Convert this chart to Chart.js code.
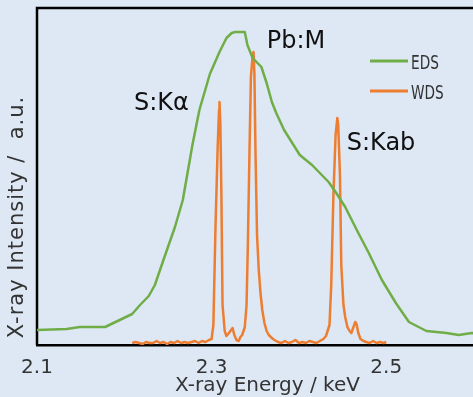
<!DOCTYPE html>
<html>
<head>
<meta charset="utf-8">
<script src="https://cdn.jsdelivr.net/npm/chart.js@4"></script>
<style>
  html, body { margin: 0; padding: 0; overflow: hidden; background: #dde8f4; }
  #wrap { width: 500px; height: 397px; position: relative; }
</style>
</head>
<body>
<div id="wrap"><canvas id="spec"></canvas></div>
<script>
// EDS spectrum (keV, a.u.)
const edsEnergy = [2.100, 2.134, 2.149, 2.178, 2.209, 2.218, 2.228, 2.235, 2.246, 2.258, 2.267, 2.278, 2.286, 2.298,
  2.309, 2.317, 2.323, 2.327, 2.338, 2.341, 2.347, 2.357, 2.363, 2.369, 2.374, 2.383, 2.401, 2.415, 2.434, 2.442,
  2.453, 2.468, 2.480, 2.495, 2.511, 2.526, 2.546, 2.569, 2.583, 2.598, 2.628];
const edsIntensity = [15, 16, 18, 18, 31, 40, 49, 60, 88, 118, 145, 200, 235, 271,
  293, 307, 312, 313, 313, 300, 287, 278, 262, 243, 232, 215, 190, 180, 163, 153,
  138, 112, 92, 65, 42, 23, 14, 12, 10, 12, 11];

// WDS spectrum (keV, a.u.)
const wdsEnergy = [2.209, 2.213, 2.217, 2.221, 2.225, 2.229, 2.233, 2.237, 2.241, 2.245, 2.249, 2.253, 2.257, 2.261,
  2.265, 2.269, 2.273, 2.277, 2.281, 2.285, 2.289, 2.293, 2.297,
  2.300, 2.302, 2.3045, 2.307, 2.3085, 2.309, 2.310, 2.3112, 2.3125, 2.315, 2.317, 2.319, 2.3215, 2.324, 2.326,
  2.3285, 2.331, 2.333, 2.335, 2.338, 2.340, 2.3415, 2.3435, 2.345, 2.347, 2.348, 2.349, 2.3503, 2.352, 2.354,
  2.356, 2.358, 2.3605, 2.363, 2.3655, 2.369, 2.372,
  2.376, 2.380, 2.384, 2.388, 2.392, 2.396, 2.400, 2.404, 2.408, 2.412, 2.416, 2.420, 2.424, 2.428,
  2.431, 2.435, 2.437, 2.4395, 2.442, 2.444, 2.445, 2.447, 2.4485, 2.451, 2.453, 2.4555, 2.458, 2.460, 2.4625,
  2.4645, 2.466, 2.468, 2.4705, 2.474,
  2.477, 2.481, 2.485, 2.489, 2.493, 2.497, 2.500];
const wdsIntensity = [2, 3, 2, 1, 3, 2, 2, 4, 2, 3, 1, 3, 2, 4,
  2, 3, 2, 3, 4, 2, 4, 3, 5,
  6, 20, 120, 200, 235, 243, 222, 150, 40, 14, 9, 11, 14, 17, 10,
  5, 4, 8, 10, 18, 40, 100, 200, 268, 290, 293, 272, 190, 110, 75,
  52, 35, 22, 14, 10, 7, 5,
  3, 2, 4, 2, 3, 5, 2, 3, 2, 4, 3, 2, 4, 6,
  9, 20, 60, 150, 210, 227, 220, 170, 80, 40, 28, 18, 14, 12, 18,
  23, 21, 12, 6, 4,
  3, 2, 4, 2, 3, 2, 3];

const xTicks = [2.1, 2.3, 2.5];
const seriesNames = ['EDS', 'WDS'];
const seriesColors = ['#70ad47', '#ed7d31'];
const peakLabels = ['S:K\u03b1', 'Pb:M', 'S:Kab'];
const peakLabelAt = [[2.211, 235], [2.3632, 297], [2.4548, 195]];

const toPoints = (xs, ys) => xs.map((x, i) => ({ x: x, y: ys[i] }));

const textColor = '#333333';

const decor = {
  id: 'decor',
  beforeDatasetsDraw(chart) {
    const { ctx, chartArea: a } = chart;
    ctx.save();
    ctx.strokeStyle = '#000';
    ctx.lineWidth = 2.5;
    ctx.beginPath();
    ctx.moveTo(a.left, a.bottom);
    ctx.lineTo(a.left, a.top);
    ctx.lineTo(a.right, a.top);
    ctx.stroke();
    ctx.restore();
  },
  afterDraw(chart) {
    const { ctx } = chart;
    const xs = chart.scales.x, ys = chart.scales.y;
    ctx.save();
    // peak names
    ctx.fillStyle = '#111';
    ctx.font = '24px "DejaVu Sans"';
    ctx.textAlign = 'left';
    ctx.textBaseline = 'alphabetic';
    peakLabels.forEach((t, i) => {
      ctx.fillText(t, xs.getPixelForValue(peakLabelAt[i][0]), ys.getPixelForValue(peakLabelAt[i][1]));
    });
    // legend
    seriesNames.forEach((name, i) => {
      const y = 61 + i * 30;
      ctx.strokeStyle = seriesColors[i];
      ctx.lineWidth = 3;
      ctx.beginPath();
      ctx.moveTo(370, y);
      ctx.lineTo(408, y);
      ctx.stroke();
      ctx.save();
      ctx.translate(411, y + 8);
      ctx.scale(0.72, 1);
      ctx.fillStyle = textColor;
      ctx.font = '19px "DejaVu Sans"';
      ctx.fillText(name, 0, 0);
      ctx.restore();
    });
    // y title
    ctx.translate(18, 217);
    ctx.rotate(-Math.PI / 2);
    ctx.fillStyle = textColor;
    ctx.font = '21px "DejaVu Sans"';
    ctx.letterSpacing = '1px';
    ctx.textAlign = 'center';
    ctx.textBaseline = 'middle';
    ctx.fillText('X-ray Intensity /  a.u.', 0, 0);
    ctx.restore();
  }
};

new Chart(document.getElementById('spec'), {
  type: 'line',
  data: {
    datasets: [
      { label: seriesNames[0], data: toPoints(edsEnergy, edsIntensity), borderColor: seriesColors[0], borderWidth: 2.5 },
      { label: seriesNames[1], data: toPoints(wdsEnergy, wdsIntensity), borderColor: seriesColors[1], borderWidth: 2.5 }
    ]
  },
  options: {
    responsive: true,
    maintainAspectRatio: false,
    animation: false,
    parsing: false,
    elements: { point: { radius: 0 }, line: { tension: 0, borderJoinStyle: 'round', fill: false } },
    layout: { padding: { left: 37, top: 8, right: 2, bottom: 0 } },
    plugins: { legend: { display: false }, tooltip: { enabled: false } },
    scales: {
      x: {
        type: 'linear',
        min: 2.1,
        max: 2.628,
        afterBuildTicks: s => { s.ticks = xTicks.map(v => ({ value: v })); },
        ticks: {
          color: textColor,
          font: { family: 'DejaVu Sans', size: 20, lineHeight: 1 },
          padding: 13,
          maxRotation: 0,
          callback: v => v.toFixed(1)
        },
        grid: { display: false, drawTicks: false },
        border: { display: true, color: '#000', width: 2.5 },
        title: {
          display: true,
          text: 'X-ray Energy / keV',
          color: textColor,
          font: { family: 'DejaVu Sans', size: 20, lineHeight: 1 },
          padding: { top: -15, bottom: 1 }
        }
      },
      y: { display: false, min: 0, max: 337 }
    }
  },
  plugins: [decor]
});
</script>
</body>
</html>
